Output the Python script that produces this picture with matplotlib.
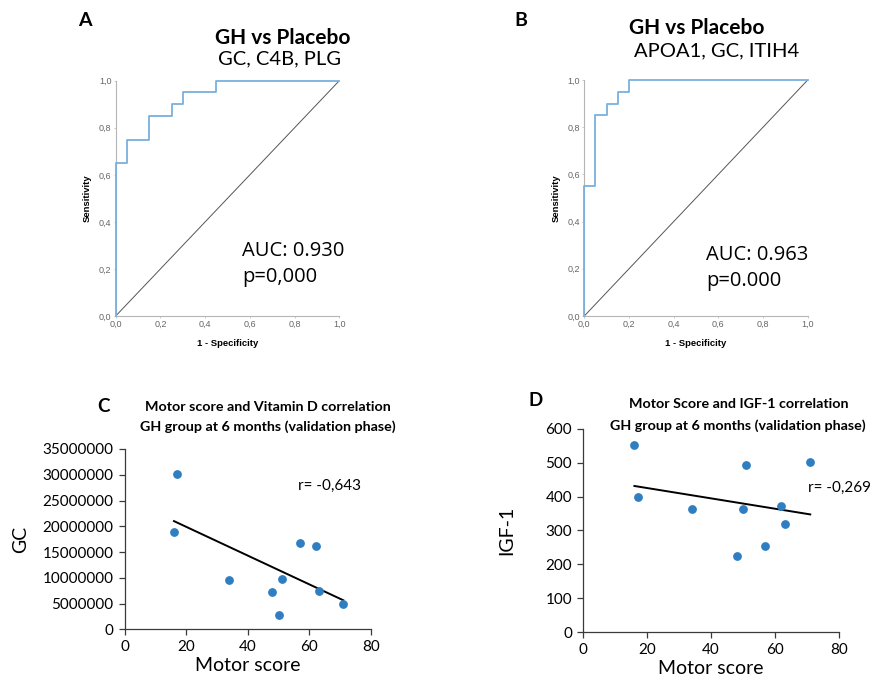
import numpy as np
import matplotlib
matplotlib.use("Agg")
import matplotlib.pyplot as plt

W, H = 882, 684

# ROC panel A (GC, C4B, PLG)
roc_a_fpr = [0, 0, 0.05, 0.05, 0.15, 0.15, 0.25, 0.25, 0.30, 0.30, 0.45, 0.45, 1.0]
roc_a_tpr = [0, 0.65, 0.65, 0.75, 0.75, 0.85, 0.85, 0.90, 0.90, 0.95, 0.95, 1.0, 1.0]

# ROC panel B (APOA1, GC, ITIH4)
roc_b_fpr = [0, 0, 0.05, 0.05, 0.10, 0.10, 0.15, 0.15, 0.20, 0.20, 1.0]
roc_b_tpr = [0, 0.55, 0.55, 0.85, 0.85, 0.90, 0.90, 0.95, 0.95, 1.0, 1.0]

roc_ticks = [0, 0.2, 0.4, 0.6, 0.8, 1.0]
roc_tick_labels = ["0,0", "0,2", "0,4", "0,6", "0,8", "1,0"]

# correlation panels
motor_c = [16, 17, 34, 48, 50, 51, 57, 62, 63, 71]
gc_vals = [18.8e6, 30.2e6, 9.5e6, 7.25e6, 2.85e6, 9.77e6, 16.8e6, 16.2e6, 7.5e6, 4.85e6]

motor_d = [16, 17, 34, 48, 50, 51, 57, 62, 63, 71]
igf1_vals = [552, 400, 362, 225, 362, 493, 254, 372, 319, 501]

BLUE_ROC = "#78b0de"
BLUE_PT = "#2f7ec1"

plt.rcParams["font.family"] = ["Lato", "DejaVu Sans"]


def rect(x0, y0, x1, y1):
    # pixel box -> figure fraction [left, bottom, width, height]
    return [x0 / W, 1 - y1 / H, (x1 - x0) / W, (y1 - y0) / H]


def ftext(x, y, s, **kw):
    fig.text(x / W, 1 - y / H, s, **kw)


fig = plt.figure(figsize=(W / 100, H / 100), dpi=100)


def roc_panel(box, fpr, tpr, auc_txt, p_txt, txt_xy):
    ax = fig.add_axes(box)
    ax.plot([0, 1], [0, 1], color="#555555", lw=0.7)
    ax.plot(fpr, tpr, color=BLUE_ROC, lw=1.3, clip_on=False, zorder=3)
    ax.set_xlim(0, 1)
    ax.set_ylim(0, 1)
    for s in ("top", "right"):
        ax.spines[s].set_visible(False)
    for s in ("left", "bottom"):
        ax.spines[s].set_color("#b5b5b5")
        ax.spines[s].set_linewidth(0.8)
    ax.set_xticks(roc_ticks)
    ax.set_xticklabels(roc_tick_labels)
    ax.set_yticks(roc_ticks)
    ax.set_yticklabels(roc_tick_labels)
    ax.tick_params(length=1.5, width=0.5, color="#b5b5b5", labelsize=6.5,
                   labelcolor="#666666", pad=1.5)
    for lab in ax.get_xticklabels() + ax.get_yticklabels():
        lab.set_family(["Liberation Sans", "DejaVu Sans"])
    ax.set_xlabel("1 - Specificity", fontsize=6.8, fontweight="bold",
                  family=["Liberation Sans", "DejaVu Sans"], labelpad=7)
    ax.set_ylabel("Sensitivity", fontsize=6.8, fontweight="bold",
                  family=["Liberation Sans", "DejaVu Sans"], labelpad=5)
    ftext(txt_xy[0], txt_xy[1], auc_txt, fontsize=14.5, family=["Open Sans", "DejaVu Sans"],
          va="center")
    ftext(txt_xy[0], txt_xy[1] + 26, p_txt, fontsize=14.5, family=["Open Sans", "DejaVu Sans"],
          va="center")
    return ax


roc_panel(rect(115.7, 80.7, 339.3, 316), roc_a_fpr, roc_a_tpr,
          "AUC: 0.930", "p=0,000", (242, 251))
roc_panel(rect(584.3, 80, 807.7, 316), roc_b_fpr, roc_b_tpr,
          "AUC: 0.963", "p=0.000", (706, 255))

ftext(85, 21, "A", fontsize=14, fontweight="bold", ha="center", va="center")
ftext(521, 20, "B", fontsize=14, fontweight="bold", ha="center", va="center")
ftext(283, 38, "GH vs Placebo", fontsize=15, fontweight="bold", ha="center", va="center")
ftext(279, 59, "GC, C4B, PLG", fontsize=14.5, ha="center", va="center")
ftext(697, 28, "GH vs Placebo", fontsize=15, fontweight="bold", ha="center", va="center")
ftext(717, 51, "APOA1, GC, ITIH4", fontsize=14.5, ha="center", va="center")


def corr_panel(box, x, y, ylim, ystep, ylabel, r_txt, r_xy):
    ax = fig.add_axes(box)
    x = np.asarray(x, float)
    y = np.asarray(y, float)
    ax.scatter(x, y, s=28, color=BLUE_PT, zorder=3, clip_on=False)
    k, b = np.polyfit(x, y, 1)
    xs = np.array([x.min(), x.max()])
    ax.plot(xs, k * xs + b, color="black", lw=1.4, zorder=2)
    ax.set_xlim(0, 80)
    ax.set_ylim(0, ylim)
    ax.set_xticks(np.arange(0, 81, 20))
    yt = np.arange(0, ylim + 1, ystep)
    ax.set_yticks(yt)
    ax.set_yticklabels([str(int(v)) for v in yt])
    for s in ("top", "right"):
        ax.spines[s].set_visible(False)
    for s in ("left", "bottom"):
        ax.spines[s].set_color("#3a3a3a")
        ax.spines[s].set_linewidth(0.9)
    ax.tick_params(length=4, width=0.9, color="#3a3a3a", labelsize=11, pad=4)
    ax.set_xlabel("Motor score", fontsize=14, labelpad=2)
    ax.set_ylabel(ylabel, fontsize=14)
    ftext(r_xy[0], r_xy[1], r_txt, fontsize=11, va="center")
    return ax


ax_c = corr_panel(rect(124.7, 449, 371, 629.3), motor_c, gc_vals, 35e6, 5e6,
                  "GC", "r= -0,643", (298, 486))
ax_c.yaxis.labelpad = 10
ax_d = corr_panel(rect(583.3, 428.8, 839, 632), motor_d, igf1_vals, 600, 100,
                  "IGF-1", "r= -0,269", (808, 488))
ax_d.yaxis.labelpad = 22

ftext(103, 406, "C", fontsize=13.5, fontweight="bold", ha="center", va="center")
ftext(268, 407, "Motor score and Vitamin D correlation", fontsize=10.3,
      fontweight="bold", ha="center", va="center")
ftext(268, 427, "GH group at 6 months (validation phase)", fontsize=10.3,
      fontweight="bold", ha="center", va="center")
ftext(536, 401, "D", fontsize=13.5, fontweight="bold", ha="center", va="center")
ftext(739, 404, "Motor Score and IGF-1 correlation", fontsize=10.3,
      fontweight="bold", ha="center", va="center")
ftext(738, 426, "GH group at 6 months (validation phase)", fontsize=10.3,
      fontweight="bold", ha="center", va="center")

fig.savefig("out.png", dpi=100)
